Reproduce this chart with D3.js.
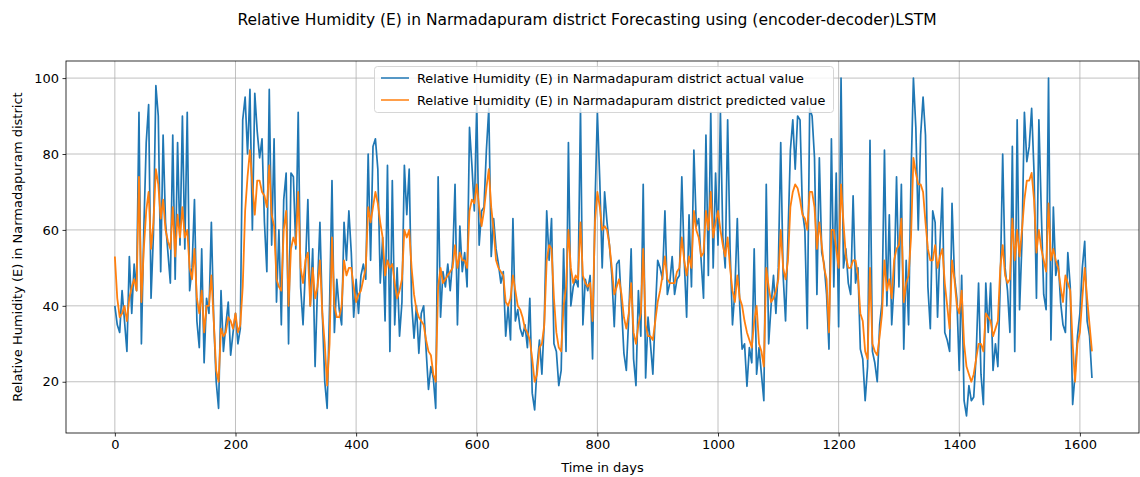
<!DOCTYPE html>
<html><head><meta charset="utf-8">
<script src="https://cdn.jsdelivr.net/npm/d3@7"></script>
<style>
html,body{margin:0;padding:0;background:#fff;}
svg{display:block;font-family:"DejaVu Sans",sans-serif;}
</style></head>
<body><svg id="chart" width="1140" height="477"></svg>
<script>
const title = "Relative Humidity (E) in Narmadapuram district Forecasting using (encoder-decoder)LSTM";
const xLabel = "Time in days";
const yLabel = "Relative Humidity (E) in Narmadapuram district";
const seriesNames = ["Relative Humidity (E) in Narmadapuram district actual value",
                     "Relative Humidity (E) in Narmadapuram district predicted value"];
const xTicks = [0, 200, 400, 600, 800, 1000, 1200, 1400, 1600];
const yTicks = [20, 40, 60, 80, 100];
const dayStep = 4; // values read every 4 days, starting at day 0

const actual = [
40,35,33,44,36,28,53,38,51,44,91,30,60,83,93,42,59,98,90,49,85,62,54,46,85,47,83,56,90,55,91,44,50,68,36,29,55,25,42,38,62,36,20,13,44,28,35,41,
27,33,38,30,34,89,95,80,97,60,96,86,79,84,62,49,97,56,84,41,60,35,68,75,30,75,74,55,91,45,35,50,68,40,55,24,45,62,38,20,13,40,73,33,47,39,35,62,52,65,
54,37,47,38,48,51,47,80,52,82,84,76,46,58,36,77,28,73,35,50,32,41,77,64,76,41,31.5,40,27.5,38,40,28.5,18,24,21,13,74,37,49,45,51,44,52,72,35,61,49,54,45,
87,77,65,93,56,65,66,81,92,53,63,55,51,46,49,32,40,31,63,36,39,34,32,35,29,42,17,12.6,24,31,22,36,65,52,63,30,28,19,23,55,28,83,40,45,47,45,92,35,47,
44,48,26,66,91,73,50,70,62,56,48,34.5,51,52,40,27.5,23,37,55,26,19,44,32,72,21,37,30,22,38,52,50,47,65,43,46,53,43,47,48,74,52,37,64,45,81,61,63,52,42,85,
48,91,50,75,56,91,58,50,89,55,35,44,63,40,28.6,30,18.8,29,25,55,22,29,22,15,72,30,40,48,38,50,83,48,36,58,81,89,76,90,89,65,60,34,92,90,79,43,79,54,51,43,
28.6,84,45,75,34.5,100,50,55,46,43,69,46,50,28.6,26,15,24,83.6,28,25,20,35,41,81,40,64,35,46,74,45,72,28.6,52,35,74,100,87,60,85,95,85,45,34,65,62,37,56,71,33,31,
28,67,48,42,23,48,15,11,19,15,16,27,46,22,14,46,33,46,23,30,24,46,80,50,44,33,82,28,89,39,57,91,78,82,92,75,42,89,65,43,39,100,31,66,48,52,41,35,33,54,
45,14,22,32,38,50,57,36,32,21
];

const predicted = [
53,42,37,38,40,36,42,45,47,44,74,41,55,65,70,55,62,76,72,63,68,60,57,55,66,53,64,58,66,58,60,50,47,55,42,38,44,33,40,40,48,36,23,20,34,32,33,37,
36,34,38,33,35,45,65,74,81,72,64,73,73,70,69,66,77,64,61,47,45,44,60,65,40,55,58,56,70,50,46,52,54,40,50,42,45,52,38,30,19,30,58,40,37,37,40,52,48,50,
50,45,41,43,44,47,50,66,62,66,70,67,62,58,48,52,50,51,46,42,44,47,60,58,60,50,43,39,37,36,35,31,28,27,22,20,45,50,46,47,48,49,50,56,50,54,52,52,50,
65,68,67,72,66,61,65,71,76,66,60,52,50,49,48,41,40,42,48,44,40,39,37,34,33,31,26,20,22,29,30,35,52,56,55,42,33,29,28,40,45,60,50,46,48,47,62,48,46,
45,46,36,62,70,66,60,61,60,56,50,43,45,47,43,37,34,38,46,33,30,35,38,55,35,32,32,31,36,41,44,48,53,47,46,46,46,49,50,58,52,48,53,50,65,60,58,53,54,65,
60,70,58,62,65,60,56,53,58,50,44,41,48,42,40,36,33,31,29,36,40,30,28,24,50,45,41,42,44,47,60,50,47,52,66,70,72,71,68,64,63,60,70,70,66,55,62,56,50,47,
33,60,60,55,50,72,62,53,50,50,52,52,48,38,36,28,26,50,30,28,27,32,38,52,44,47,42,52,55,56,63,41,46,48,58,79,75,72,72,70,62,55,52,52,56,50,53,55,46,40,
34,52,47,40,38,44,30,24,22,20,22,26,30,30,28,38,37,36,32,34,36,50,56,48,46,47,63,52,60,53,60,68,73,73,75,68,54,60,55,52,49,67,52,55,52,50,45,41,48,46,
44,30,20,30,33,42,50,42,35,28
];

const svg = d3.select("#chart");
const L = 66, R = 1139, T = 61, B = 433;
const x = d3.scaleLinear().domain([-81, 1698]).range([L, R]);
const y = d3.scaleLinear().domain([6.5, 104.5]).range([B, T]);

// grid
const g = svg.append("g");
g.selectAll(".vg").data(xTicks).join("line")
  .attr("x1", d => x(d)).attr("x2", d => x(d)).attr("y1", T).attr("y2", B)
  .attr("stroke", "#b0b0b0").attr("stroke-width", 0.8);
g.selectAll(".hg").data(yTicks).join("line")
  .attr("x1", L).attr("x2", R).attr("y1", d => y(d)).attr("y2", d => y(d))
  .attr("stroke", "#b0b0b0").attr("stroke-width", 0.8);

const line = d3.line().x((d, i) => x(i * dayStep)).y(d => y(d));
svg.append("path").datum(actual).attr("d", line)
  .attr("fill", "none").attr("stroke", "#1f77b4").attr("stroke-width", 1.7).attr("stroke-linejoin", "round");
svg.append("path").datum(predicted).attr("d", line)
  .attr("fill", "none").attr("stroke", "#ff7f0e").attr("stroke-width", 1.8).attr("stroke-linejoin", "round");

// axes
const xAxis = d3.axisBottom(x).tickValues(xTicks).tickSize(3.5).tickPadding(3.5).tickFormat(d3.format("d"));
const yAxis = d3.axisLeft(y).tickValues(yTicks).tickSize(3.5).tickPadding(3.5).tickFormat(d3.format("d"));
const gx = svg.append("g").attr("transform", `translate(0,${B})`).call(xAxis);
const gy = svg.append("g").attr("transform", `translate(${L},0)`).call(yAxis);
[gx, gy].forEach(a => {
  a.select(".domain").remove();
  a.selectAll("text").attr("font-size", 13).attr("fill", "#000").attr("font-family", "DejaVu Sans");
  a.selectAll("line").attr("stroke", "#000").attr("stroke-width", 0.8);
});
svg.append("rect").attr("x", L).attr("y", T).attr("width", R - L).attr("height", B - T)
  .attr("fill", "none").attr("stroke", "#000").attr("stroke-width", 0.8);

// labels
svg.append("text").attr("x", 587).attr("y", 25).attr("text-anchor", "middle")
  .attr("font-size", 15.5).text(title);
svg.append("text").attr("x", (L + R) / 2).attr("y", 472).attr("text-anchor", "middle")
  .attr("font-size", 13).text(xLabel);
svg.append("text").attr("transform", `translate(22,${(T + B) / 2}) rotate(-90)`)
  .attr("text-anchor", "middle").attr("font-size", 13).text(yLabel);

// legend
const lg = svg.append("g");
lg.append("rect").attr("x", 374.5).attr("y", 66.5).attr("width", 459).attr("height", 46).attr("rx", 3)
  .attr("fill", "#fff").attr("fill-opacity", 0.8).attr("stroke", "#cccccc").attr("stroke-width", 0.8);
const colors = ["#1f77b4", "#ff7f0e"];
seriesNames.forEach((name, i) => {
  const yy = 78 + i * 22;
  lg.append("line").attr("x1", 381).attr("x2", 409).attr("y1", yy).attr("y2", yy)
    .attr("stroke", colors[i]).attr("stroke-width", 1.5);
  lg.append("text").attr("x", 417).attr("y", yy + 4.5).attr("font-size", 12.8).text(name);
});
</script></body></html>
